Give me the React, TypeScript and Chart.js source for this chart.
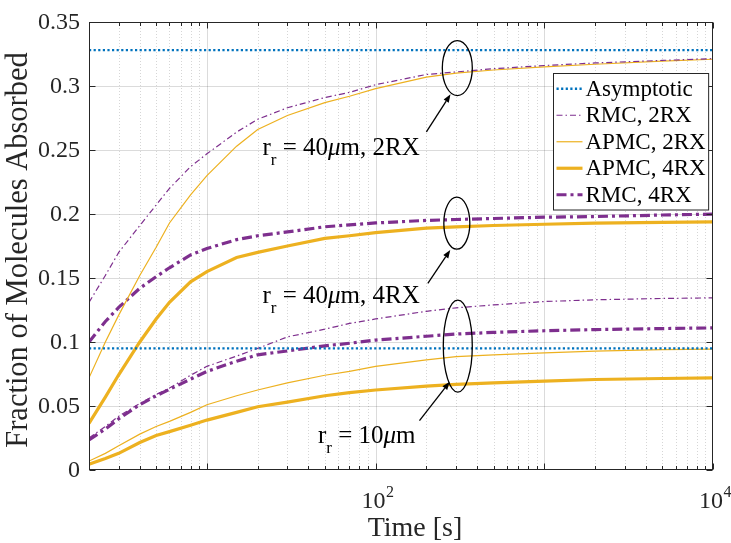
import { useEffect, useRef } from 'react';
import { Chart, registerables } from 'chart.js';

Chart.register(...registerables);

const FONT = "'Liberation Serif', 'Times New Roman', serif";
Chart.defaults.font.family = FONT;
const PURPLE = '#7E2F8E';
const ORANGE = '#EDB120';
const BLUE = '#0072BD';
const AXIS = '#262626';

// ---- data ----
const times = [2, 2.5, 3, 4, 5, 6, 8, 10, 15, 20, 30, 50, 70, 100, 200, 300, 500, 1000, 2000, 5000, 10000];

// r_r = 40 um
const rmc2rx40 = [0.131, 0.152, 0.170, 0.191, 0.207, 0.220, 0.237, 0.247, 0.264, 0.274, 0.283, 0.291, 0.295, 0.301, 0.309, 0.311, 0.3135, 0.316, 0.318, 0.320, 0.3214];
const apmc2rx40 = [0.072, 0.100, 0.121, 0.152, 0.174, 0.193, 0.215, 0.230, 0.253, 0.266, 0.277, 0.287, 0.292, 0.298, 0.307, 0.310, 0.3125, 0.315, 0.317, 0.3195, 0.3209];
const apmc4rx40 = [0.0364, 0.057, 0.0744, 0.100, 0.118, 0.131, 0.147, 0.155, 0.166, 0.170, 0.175, 0.181, 0.183, 0.1855, 0.189, 0.190, 0.191, 0.192, 0.1928, 0.1935, 0.1939];
const rmc4rx40 = [0.100, 0.116, 0.127, 0.142, 0.151, 0.158, 0.168, 0.173, 0.180, 0.183, 0.186, 0.190, 0.1915, 0.193, 0.195, 0.1957, 0.1965, 0.1975, 0.198, 0.1992, 0.1999];

// r_r = 10 um
const rmc2rx10 = [0.025, 0.034, 0.042, 0.052, 0.059, 0.064, 0.074, 0.081, 0.089, 0.095, 0.104, 0.110, 0.1145, 0.118, 0.124, 0.1267, 0.129, 0.1316, 0.133, 0.134, 0.1345];
const apmc2rx10 = [0.007, 0.013, 0.019, 0.028, 0.034, 0.038, 0.045, 0.051, 0.058, 0.0625, 0.068, 0.074, 0.077, 0.081, 0.086, 0.0885, 0.090, 0.0915, 0.0928, 0.094, 0.0945];
const apmc4rx10 = [0.0045, 0.009, 0.013, 0.0215, 0.027, 0.030, 0.035, 0.039, 0.045, 0.0494, 0.053, 0.058, 0.0605, 0.0625, 0.0655, 0.0669, 0.068, 0.0695, 0.0707, 0.0715, 0.072];
const rmc4rx10 = [0.0235, 0.032, 0.040, 0.051, 0.058, 0.063, 0.071, 0.077, 0.085, 0.090, 0.093, 0.097, 0.099, 0.1015, 0.1045, 0.1062, 0.1075, 0.1088, 0.1097, 0.1105, 0.111];

const asymptoteLevels = [0.328, 0.095];

const legendLabels = ['Asymptotic', 'RMC, 2RX', 'APMC, 2RX', 'APMC, 4RX', 'RMC, 4RX'];
const xTitle = 'Time [s]';
const yTitle = 'Fraction of Molecules Absorbed';

const yTickValues = [0, 0.05, 0.1, 0.15, 0.2, 0.25, 0.3, 0.35];
const yTickLabels = ['0', '0.05', '0.1', '0.15', '0.2', '0.25', '0.3', '0.35'];
const xDecades = [1, 10, 100, 1000];
const xMajorTicks = [10, 100, 1000, 10000];
const xLabelTicks = [100, 10000];
const xLabelBase = '10';
const xLabelExponents = ['2', '4'];
const xMin = 2;
const xMax = 10000;
const xTickValues: number[] = [];
for (const d of xDecades) for (let k = 1; k <= 9; k++) { const v = k * d; if (v >= xMin) xTickValues.push(v); }
xTickValues.push(xMax);

// annotation anchors in data coordinates
const ellipseNotes = [
  { t: 305, v: 0.314, rx: 15, ry: 27.5 },
  { t: 303, v: 0.1928, rx: 13, ry: 26 },
  { t: 307, v: 0.0968, rx: 14.5, ry: 46 },
];
const arrowNotes = [
  { from: [200, 0.2641], to: [278, 0.2935] },
  { from: [204, 0.1458], to: [277, 0.1718] },
  { from: [182, 0.0385], to: [275, 0.0689] },
];
const textNotes = [
  { t: 21.35, v: 0.2459, num: '40', tail: 'm, 2RX' },
  { t: 21.35, v: 0.1304, num: '40', tail: 'm, 4RX' },
  { t: 45.5, v: 0.0208, num: '10', tail: 'm' },
];

const styles: Record<string, any> = {
  asym: { borderColor: BLUE, borderWidth: 2.4, borderDash: [2.2, 2.4] },
  rmc2: { borderColor: PURPLE, borderWidth: 1.2, borderDash: [6, 3, 1.5, 3] },
  apmc2: { borderColor: ORANGE, borderWidth: 1.2, borderDash: [] },
  apmc4: { borderColor: ORANGE, borderWidth: 3.2, borderDash: [] },
  rmc4: { borderColor: PURPLE, borderWidth: 3.2, borderDash: [10, 4, 3, 4] },
};

const toPoints = (vals: number[]) => times.map((t, i) => ({ x: t, y: vals[i] }));
const flat = (v: number) => [{ x: xMin, y: v }, { x: xMax, y: v }];

const framePlugin = {
  id: 'frame',
  beforeDatasetsDraw(chart: any) {
    const { ctx, chartArea, scales } = chart;
    const { left, right, top, bottom } = chartArea;
    const x = scales.x, y = scales.y;
    ctx.save();
    ctx.lineWidth = 1;
    ctx.strokeStyle = 'rgba(0,0,0,0.14)';
    ctx.setLineDash([]);
    yTickValues.forEach((v) => {
      const py = Math.round(y.getPixelForValue(v)) + 0.5;
      if (py <= top + 1 || py >= bottom - 1) return;
      ctx.beginPath(); ctx.moveTo(left, py); ctx.lineTo(right, py); ctx.stroke();
    });
    xTickValues.forEach((v) => {
      if (v <= xMin || v >= xMax) return;
      const px = Math.round(x.getPixelForValue(v)) + 0.5;
      if (xMajorTicks.includes(v)) {
        ctx.setLineDash([]);
        ctx.strokeStyle = 'rgba(0,0,0,0.14)';
      } else {
        ctx.setLineDash([1, 2]);
        ctx.strokeStyle = 'rgba(0,0,0,0.16)';
      }
      ctx.beginPath(); ctx.moveTo(px, top); ctx.lineTo(px, bottom); ctx.stroke();
    });
    ctx.restore();
  },
  afterDatasetsDraw(chart: any) {
    const { ctx, chartArea, scales } = chart;
    const { left, right, top, bottom } = chartArea;
    const x = scales.x, y = scales.y;
    ctx.save();
    ctx.strokeStyle = AXIS;
    ctx.lineWidth = 1;
    ctx.setLineDash([]);
    const l = Math.round(left) + 0.5, r = Math.round(right) - 0.5;
    const t = Math.round(top) + 0.5, b = Math.round(bottom) - 0.5;
    ctx.strokeRect(l, t, r - l, b - t);
    ctx.beginPath();
    yTickValues.forEach((v) => {
      const py = Math.round(y.getPixelForValue(v)) + 0.5;
      ctx.moveTo(l, py); ctx.lineTo(l + 6, py);
      ctx.moveTo(r, py); ctx.lineTo(r - 6, py);
    });
    xTickValues.forEach((v) => {
      const px = Math.round(x.getPixelForValue(v)) + 0.5;
      const len = xMajorTicks.includes(v) ? 6 : 3.5;
      ctx.moveTo(px, b); ctx.lineTo(px, b - len);
      ctx.moveTo(px, t); ctx.lineTo(px, t + len);
    });
    ctx.stroke();

    // tick labels
    ctx.fillStyle = AXIS;
    ctx.textBaseline = 'middle';
    ctx.textAlign = 'right';
    ctx.font = `24px ${FONT}`;
    yTickValues.forEach((v, i) => {
      ctx.fillText(yTickLabels[i], left - 9, y.getPixelForValue(v) + 1);
    });
    ctx.textBaseline = 'alphabetic';
    ctx.textAlign = 'left';
    xLabelTicks.forEach((v, i) => {
      const px = x.getPixelForValue(v);
      ctx.font = `24px ${FONT}`;
      const wb = ctx.measureText(xLabelBase).width;
      ctx.font = `16px ${FONT}`;
      const we = ctx.measureText(xLabelExponents[i]).width;
      const x0 = px - (wb + we) / 2 + 2;
      ctx.font = `24px ${FONT}`;
      ctx.fillText(xLabelBase, x0, bottom + 38);
      ctx.font = `16px ${FONT}`;
      ctx.fillText(xLabelExponents[i], x0 + wb + 0.5, bottom + 27);
    });

    // axis titles
    ctx.textAlign = 'center';
    ctx.textBaseline = 'middle';
    ctx.font = `28px ${FONT}`;
    ctx.fillText(xTitle, (left + right) / 2 + 14, bottom + 59);
    ctx.save();
    ctx.translate(19, (top + bottom) / 2 + 4);
    ctx.rotate(-Math.PI / 2);
    ctx.font = `30.5px ${FONT}`;
    ctx.fillText(yTitle, 0, 0);
    ctx.restore();
    ctx.restore();
  },
  afterDraw(chart: any) {
    const { ctx, chartArea, scales } = chart;
    const x = scales.x, y = scales.y;
    ctx.save();

    // ----- legend -----
    const entries = chart.data.datasets.filter((d: any) => d.inLegend);
    ctx.font = `23px ${FONT}`;
    const textW = Math.max(...entries.map((e: any) => ctx.measureText(e.label).width));
    const sample = 26, padL = 3, gap = 2, padR = 4, rowH = 26.5, padT = 2;
    const w = padL + sample + gap + textW + padR;
    const h = padT * 2 + rowH * entries.length;
    const bx = Math.round(chartArea.right - 5 - w) + 0.5;
    const by = Math.round(chartArea.top + 51) + 0.5;
    ctx.fillStyle = '#fff';
    ctx.fillRect(bx, by, w, h);
    ctx.strokeStyle = AXIS;
    ctx.lineWidth = 1;
    ctx.setLineDash([]);
    ctx.strokeRect(bx, by, w, h);
    entries.forEach((e: any, i: number) => {
      const cy = by + padT + rowH * (i + 0.5);
      ctx.save();
      ctx.strokeStyle = e.borderColor;
      ctx.lineWidth = e.borderWidth;
      ctx.setLineDash(e.borderDash || []);
      ctx.beginPath();
      ctx.moveTo(bx + padL, cy);
      ctx.lineTo(bx + padL + sample, cy);
      ctx.stroke();
      ctx.restore();
      ctx.fillStyle = '#000';
      ctx.textBaseline = 'middle';
      ctx.textAlign = 'left';
      ctx.font = `23px ${FONT}`;
      ctx.fillText(e.label, bx + padL + sample + gap + 1, cy + 1);
    });

    // ----- annotations -----
    ctx.strokeStyle = '#000';
    ctx.fillStyle = '#000';
    ctx.lineWidth = 1.3;
    ctx.setLineDash([]);
    ellipseNotes.forEach((e) => {
      ctx.beginPath();
      ctx.ellipse(x.getPixelForValue(e.t), y.getPixelForValue(e.v), e.rx, e.ry, 0, 0, Math.PI * 2);
      ctx.stroke();
    });
    arrowNotes.forEach((a) => {
      const x0 = x.getPixelForValue(a.from[0]), y0 = y.getPixelForValue(a.from[1]);
      const x1 = x.getPixelForValue(a.to[0]), y1 = y.getPixelForValue(a.to[1]);
      const ang = Math.atan2(y1 - y0, x1 - x0);
      const hl = 8, hw = 3;
      const bxh = x1 - hl * Math.cos(ang), byh = y1 - hl * Math.sin(ang);
      ctx.beginPath(); ctx.moveTo(x0, y0); ctx.lineTo(bxh, byh); ctx.stroke();
      ctx.beginPath();
      ctx.moveTo(x1, y1);
      ctx.lineTo(bxh + hw * Math.sin(ang), byh - hw * Math.cos(ang));
      ctx.lineTo(bxh - hw * Math.sin(ang), byh + hw * Math.cos(ang));
      ctx.closePath();
      ctx.fill();
    });
    ctx.textBaseline = 'alphabetic';
    ctx.textAlign = 'left';
    textNotes.forEach((n) => {
      let px = x.getPixelForValue(n.t);
      const py = y.getPixelForValue(n.v);
      const parts = [
        { s: 'r', f: `25px ${FONT}`, dy: 0 },
        { s: 'r', f: `17px ${FONT}`, dy: 10 },
        { s: ' = ' + n.num, f: `25px ${FONT}`, dy: 0 },
        { s: '\u03BC', f: `italic 25px ${FONT}`, dy: 0 },
        { s: n.tail, f: `25px ${FONT}`, dy: 0 },
      ];
      parts.forEach((p) => {
        ctx.font = p.f;
        ctx.fillText(p.s, px, py + p.dy);
        px += ctx.measureText(p.s).width;
      });
    });
    ctx.restore();
  },
};

export default function App() {
  const canvasRef = useRef<HTMLCanvasElement | null>(null);

  useEffect(() => {
    const canvas = canvasRef.current;
    if (!canvas) return;

    const datasets: any[] = [
      { label: legendLabels[0], data: flat(asymptoteLevels[0]), ...styles.asym, inLegend: true },
      { label: legendLabels[0], data: flat(asymptoteLevels[1]), ...styles.asym, inLegend: false },
      { label: legendLabels[1], data: toPoints(rmc2rx40), ...styles.rmc2, inLegend: true },
      { label: legendLabels[1], data: toPoints(rmc2rx10), ...styles.rmc2, inLegend: false },
      { label: legendLabels[2], data: toPoints(apmc2rx40), ...styles.apmc2, inLegend: true },
      { label: legendLabels[2], data: toPoints(apmc2rx10), ...styles.apmc2, inLegend: false },
      { label: legendLabels[3], data: toPoints(apmc4rx40), ...styles.apmc4, inLegend: true },
      { label: legendLabels[3], data: toPoints(apmc4rx10), ...styles.apmc4, inLegend: false },
      { label: legendLabels[4], data: toPoints(rmc4rx40), ...styles.rmc4, inLegend: true },
      { label: legendLabels[4], data: toPoints(rmc4rx10), ...styles.rmc4, inLegend: false },
    ].map((d) => ({ ...d, pointRadius: 0, tension: 0, fill: false, borderCapStyle: 'butt' }));

    const chart = new Chart(canvas, {
      type: 'line',
      data: { datasets },
      options: {
        animation: false,
        responsive: false,
        devicePixelRatio: 1,
        layout: { padding: { top: 22, right: 18, left: 0, bottom: 0 } },
        plugins: { legend: { display: false }, tooltip: { enabled: false } },
        scales: {
          x: {
            type: 'logarithmic',
            min: xMin,
            max: xMax,
            afterBuildTicks: (s: any) => { s.ticks = xTickValues.map((v) => ({ value: v })); },
            afterFit: (s: any) => { s.height = 73; s.paddingLeft = 0; s.paddingRight = 0; },
            grid: { display: false, drawTicks: false },
            border: { display: false },
            ticks: { display: false, autoSkip: false },
            title: { display: false },
          },
          y: {
            type: 'linear',
            min: 0,
            max: 0.35,
            afterBuildTicks: (s: any) => { s.ticks = yTickValues.map((v) => ({ value: v })); },
            afterFit: (s: any) => { s.width = 89; s.paddingTop = 0; s.paddingBottom = 0; },
            grid: { display: false, drawTicks: false },
            border: { display: false },
            ticks: { display: false },
            title: { display: false },
          },
        },
      },
      plugins: [framePlugin],
    } as any);

    return () => chart.destroy();
  }, []);

  return (
    <div style={{ position: 'fixed', left: 0, top: 0, width: 731, height: 543, background: '#fff' }}>
      <canvas ref={canvasRef} width={731} height={543} style={{ display: 'block', width: 731, height: 543 }} />
    </div>
  );
}
